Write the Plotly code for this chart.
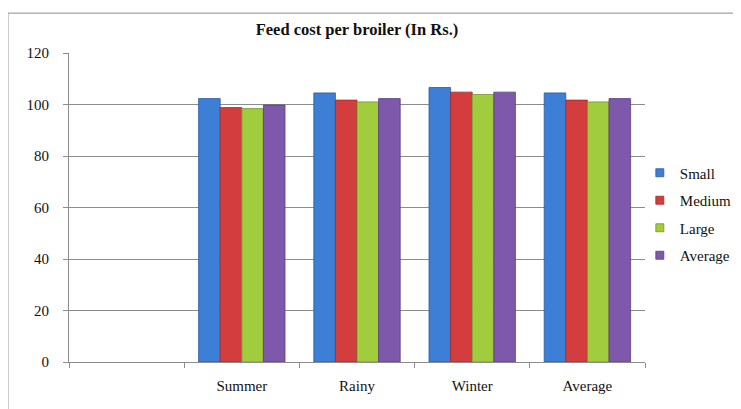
import plotly.graph_objects as go

categories = [" ", "Summer", "Rainy", "Winter", "Average"]
seasons = ["Summer", "Rainy", "Winter", "Average"]
small = [102.3, 104.5, 106.6, 104.5]
medium = [98.8, 101.7, 104.8, 101.7]
large = [98.4, 101.0, 103.9, 101.0]
average = [99.8, 102.3, 104.8, 102.3]
series_names = ["Small", "Medium", "Large", "Average"]
colors = ["#3D7FD6", "#D33D3D", "#A0CC3E", "#7E58AA"]
edge = ["#2A5C9E", "#9E2A2A", "#74962A", "#5A3E7E"]
yticks = [0, 20, 40, 60, 80, 100, 120]

fig = go.Figure()
for name, vals, c, e in zip(series_names, [small, medium, large, average], colors, edge):
    fig.add_trace(go.Bar(x=seasons, y=vals, name=name, legendgroup=name, showlegend=False,
                         marker=dict(color=c, line=dict(color=e, width=0.8))))
# legend entries with small square keys
for name, c, e in zip(series_names, colors, edge):
    fig.add_trace(go.Scatter(x=[None], y=[None], mode="markers", name=name, legendgroup=name,
                             marker=dict(symbol="square", size=8, color=c, line=dict(color=e, width=0.8))))

fnt = "Liberation Serif, Times New Roman, serif"
fig.update_layout(
    width=733, height=401,
    margin=dict(l=61, r=96, t=45, b=47, autoexpand=False),
    paper_bgcolor="white", plot_bgcolor="white",
    barmode="group", bargap=0.25, bargroupgap=0,
    font=dict(family=fnt, size=14, color="#111"),
    title=dict(text="<b>Feed cost per broiler (In Rs.)</b>", x=0.5, xanchor="center",
               xref="paper", yref="container", y=0.962, yanchor="top",
               font=dict(family=fnt, size=16.5, color="#111")),
    legend=dict(x=0.991, xanchor="left", y=0.479, yanchor="middle", tracegroupgap=5,
                font=dict(family=fnt, size=15, color="#111"), itemwidth=30,
                bgcolor="rgba(0,0,0,0)"),
    xaxis=dict(categoryorder="array", categoryarray=categories, range=[-0.5, 4.5],
               showline=True, linecolor="#8c8c8c", linewidth=1,
               ticks="outside", tickson="boundaries", ticklen=5, tickcolor="#8c8c8c",
               ticklabelstandoff=10,
               tickfont=dict(family=fnt, size=15, color="#111"), showgrid=False),
    yaxis=dict(range=[0, 120], tickvals=yticks, showline=True, linecolor="#8c8c8c",
               linewidth=1, ticks="outside", ticklen=5, tickcolor="#8c8c8c",
               ticklabelstandoff=11,
               showgrid=True, gridcolor="#8c8c8c", gridwidth=1, zeroline=False,
               tickfont=dict(family=fnt, size=15, color="#111")),
    shapes=[dict(type="rect", xref="paper", yref="paper", x0=-0.106, x1=1.4,
                 y0=-0.4, y1=1.129, line=dict(color="#8c8c8c", width=1),
                 fillcolor="rgba(0,0,0,0)", layer="below")],
)
fig.write_html("out.html")
